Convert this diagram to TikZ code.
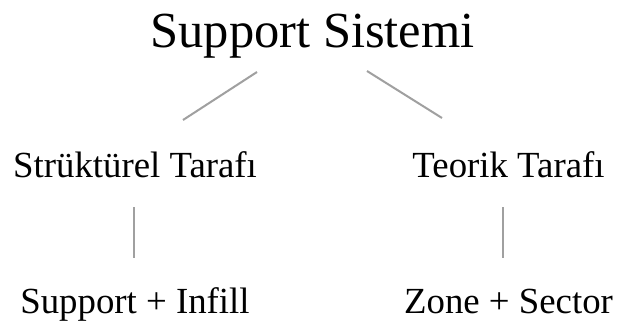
\documentclass[tikz,border=0pt]{standalone}
\usepackage{fontspec}
\setmainfont{Liberation Serif}
\usetikzlibrary{calc}
\definecolor{linkgray}{RGB}{160,160,160}
\tikzset{
  head/.style={anchor=base, inner sep=0pt, font=\fontsize{50.5}{50}\selectfont},
  item/.style={anchor=base, inner sep=0pt, font=\fontsize{36.8}{36}\selectfont},
  link/.style={draw=linkgray, line width=2pt}
}
\begin{document}
\begin{tikzpicture}[x=1pt,y=-1pt]
  \useasboundingbox[fill=white] (0,0) rectangle (617,322);
  % tree of labels
  \node[head] (root) at (312.5,47) {Support Sistemi};
  \node[item] (struct) at (135,177) {Strüktürel Tarafı};
  \node[item] (theory) at (508.5,177) {Teorik Tarafı};
  \node[item] (infill) at (135,313) {Support + Infill};
  \node[item] (zone) at (508.5,313) {Zone + Sector};
  % connector end points, kept clear of the text
  \coordinate (rootL) at ($(root.base)+(-55.5,25)$);
  \coordinate (rootR) at ($(root.base)+(54.5,24)$);
  \coordinate (structT) at ($(struct.base)+(48,-57)$);
  \coordinate (theoryT) at ($(theory.base)+(-66.5,-59)$);
  \coordinate (structB) at ($(struct.base)+(-1.5,30)$);
  \coordinate (infillT) at ($(infill.base)+(-1.5,-55)$);
  \coordinate (theoryB) at ($(theory.base)+(-5.5,30)$);
  \coordinate (zoneT) at ($(zone.base)+(-5.5,-55)$);
  \draw[link] (rootL) -- (structT);
  \draw[link] (rootR) -- (theoryT);
  \draw[link] (structB) -- (infillT);
  \draw[link] (theoryB) -- (zoneT);
\end{tikzpicture}
\end{document}
